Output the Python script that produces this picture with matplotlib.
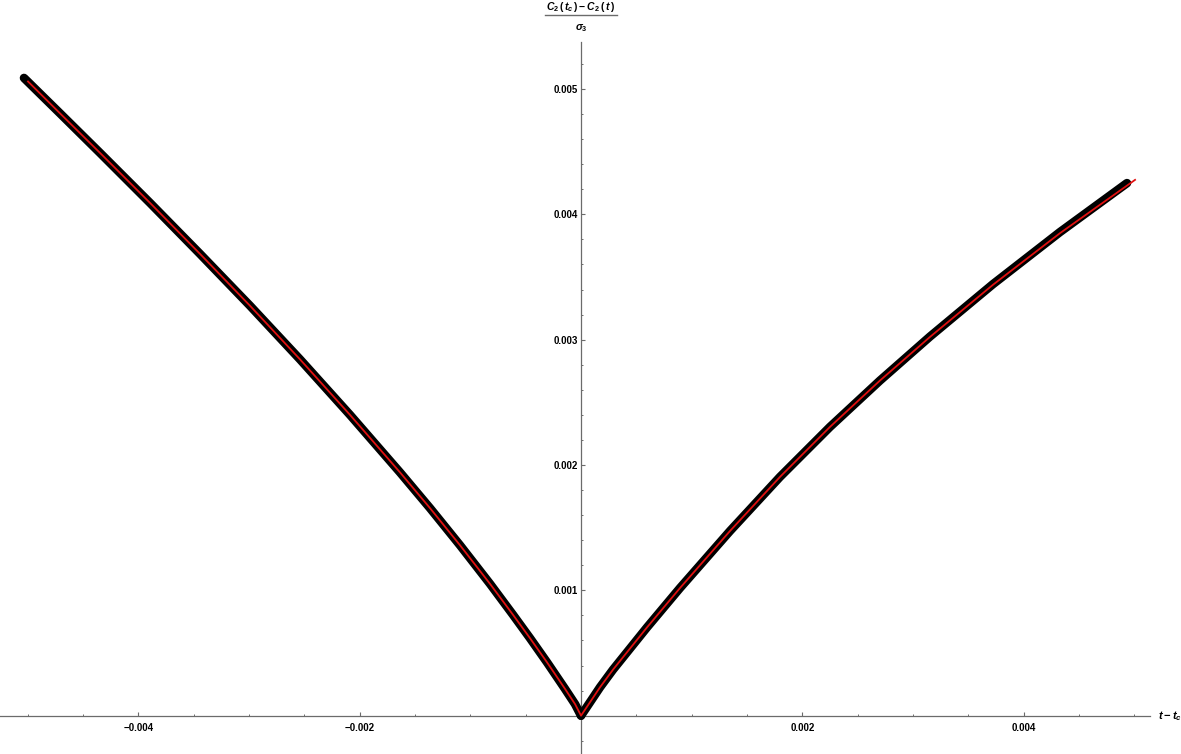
import matplotlib.pyplot as plt
from matplotlib.ticker import FixedLocator, MultipleLocator
from matplotlib.lines import Line2D

plt.rcParams['font.family'] = ['Liberation Sans', 'DejaVu Sans']
plt.rcParams['mathtext.fontset'] = 'custom'
plt.rcParams['mathtext.it'] = 'Liberation Sans:italic:bold'
plt.rcParams['mathtext.rm'] = 'Liberation Sans:bold'
plt.rcParams['mathtext.bf'] = 'Liberation Sans:bold'

# data (t - t_c, [C2(t_c) - C2(t)] / sigma3)
left_t = [-0.005034, -0.004709, -0.004347, -0.003895, -0.003443, -0.002991,
          -0.002540, -0.002088, -0.001636, -0.001365, -0.001094, -0.000822,
          -0.000615, -0.000461, -0.000307, -0.000145, -0.000054, 0.0]
left_c = [0.005088, 0.004806, 0.004490, 0.004091, 0.003684, 0.003270,
          0.002843, 0.002400, 0.001941, 0.001656, 0.001360, 0.001051,
          0.000805, 0.000618, 0.000425, 0.000214, 0.000092, 0.0]
right_t = [0.0, 0.000172, 0.000289, 0.000596, 0.000895, 0.001347, 0.001798,
           0.002250, 0.002702, 0.003154, 0.003723, 0.004329, 0.004934]
right_c = [0.0, 0.000227, 0.000367, 0.000704, 0.001019, 0.001474, 0.001905,
           0.002304, 0.002674, 0.003025, 0.003443, 0.003859, 0.004249]

# fitted curve (red)
fit_t = [-0.004998, -0.004709, -0.004347, -0.003895, -0.003443, -0.002991,
         -0.002540, -0.002088, -0.001636, -0.001365, -0.001094, -0.000822,
         -0.000615, -0.000461, -0.000307, -0.000145, -0.000054, 0.0,
         0.000172, 0.000289, 0.000596, 0.000895, 0.001347, 0.001798,
         0.002250, 0.002702, 0.003154, 0.003723, 0.004329, 0.005007]
fit_c = [0.005060, 0.004806, 0.004490, 0.004091, 0.003684, 0.003270,
         0.002843, 0.002400, 0.001941, 0.001656, 0.001360, 0.001051,
         0.000805, 0.000618, 0.000425, 0.000214, 0.000092, 0.0,
         0.000227, 0.000367, 0.000704, 0.001019, 0.001474, 0.001905,
         0.002304, 0.002674, 0.003022, 0.003438, 0.003850, 0.004275]

x_ticks = [-0.004, -0.002, 0.002, 0.004]
x_tick_labels = ['\u22120.004', '\u22120.002', '0.002', '0.004']
y_ticks = [0.001, 0.002, 0.003, 0.004, 0.005]
y_tick_labels = ['0.001', '0.002', '0.003', '0.004', '0.005']

axis_col = '#6b6b6b'

fig = plt.figure(figsize=(11.81, 7.54), dpi=100)
ax = fig.add_axes([0, 0, 1150 / 1181, 712 / 754])
ax.set_xlim(-0.005251, 0.005142)
ax.set_ylim(-0.000306, 0.005375)

for side in ('top', 'right'):
    ax.spines[side].set_visible(False)
for side in ('left', 'bottom'):
    ax.spines[side].set_position(('data', 0))
    ax.spines[side].set_color(axis_col)
    ax.spines[side].set_linewidth(0.9)
    ax.spines[side].set_zorder(1)

ax.plot(left_t, left_c, color='black', lw=6.2, solid_capstyle='round',
        solid_joinstyle='round', zorder=3)
ax.plot(right_t, right_c, color='black', lw=6.2, solid_capstyle='round',
        solid_joinstyle='round', zorder=3)
ax.plot(fit_t, fit_c, color='#e01010', lw=1.3, zorder=4)

ax.xaxis.set_major_locator(FixedLocator(x_ticks))
ax.yaxis.set_major_locator(FixedLocator(y_ticks))
ax.xaxis.set_minor_locator(MultipleLocator(0.0005))
ax.yaxis.set_minor_locator(MultipleLocator(0.0002))
ax.set_xticklabels(x_tick_labels, fontweight='bold')
ax.set_yticklabels(y_tick_labels, fontweight='bold')

ax.tick_params(axis='x', which='major', direction='in', length=3, width=0.8,
               color=axis_col, labelsize=7, pad=5)
ax.tick_params(axis='y', which='major', direction='in', length=3, width=0.8,
               color=axis_col, labelsize=7, pad=2)
ax.tick_params(which='minor', direction='in', length=1.6, width=0.7,
               color=axis_col)

# axis labels, Mathematica style
ax.text(1.007, 0, r'$t - t_c$', transform=ax.get_yaxis_transform(),
        ha='left', va='center', fontsize=8)
ax.text(0, 1 + 35 / 712, r'$C_2\,(\,t_c\,) - C_2\,(\,t\,)$',
        transform=ax.get_xaxis_transform(), ha='center', va='center',
        fontsize=7.5, clip_on=False)
ax.add_line(Line2D([-0.000325, 0.000325], [1 + 27 / 712, 1 + 27 / 712],
                   transform=ax.get_xaxis_transform(), color=axis_col,
                   lw=1, clip_on=False))
ax.text(0, 1 + 14 / 712, r'$\sigma_3$', transform=ax.get_xaxis_transform(),
        ha='center', va='center', fontsize=7.5, clip_on=False)

fig.savefig('out.png', dpi=100)
